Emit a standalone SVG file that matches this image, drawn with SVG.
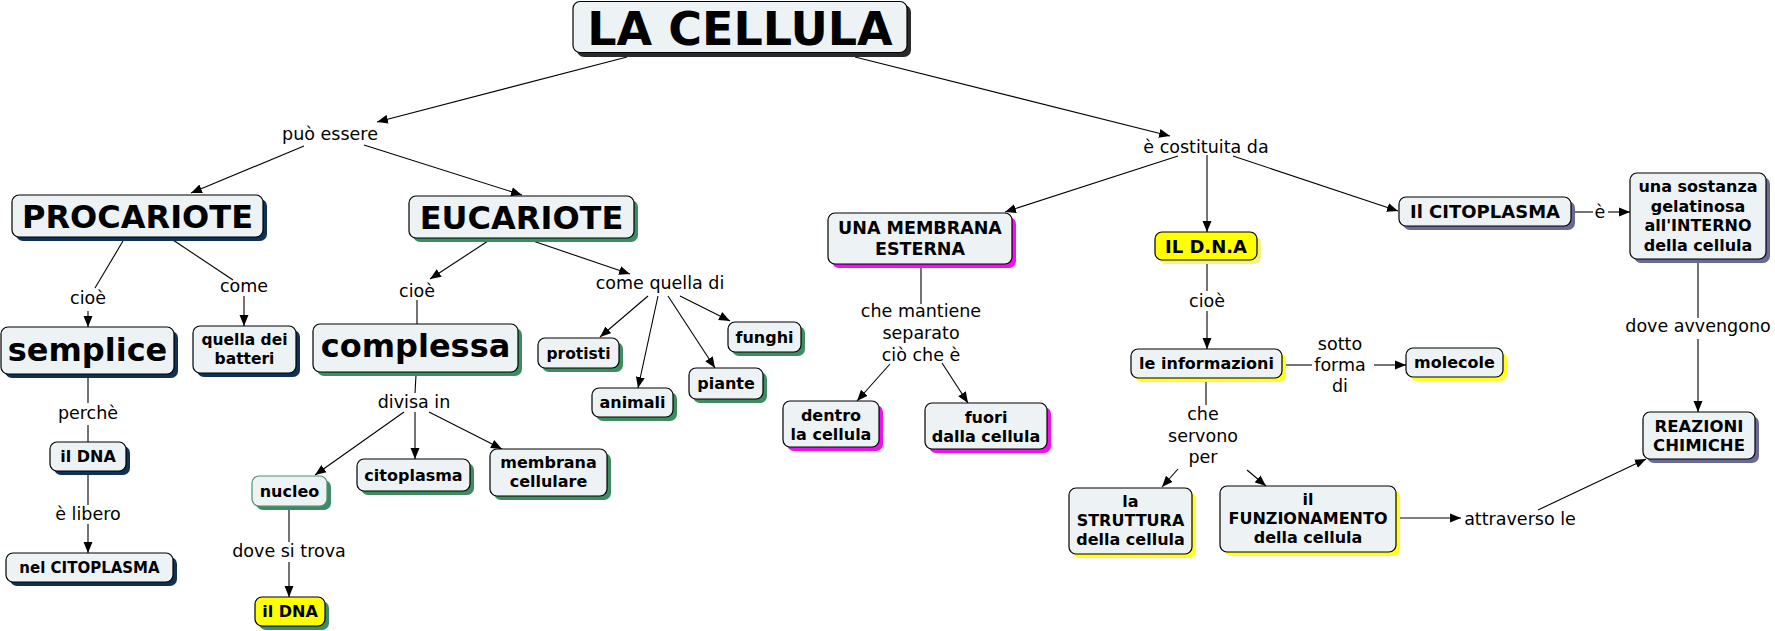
<svg xmlns="http://www.w3.org/2000/svg" width="1775" height="631" viewBox="0 0 1775 631">
<style>
.bx{fill:#edf3f5;stroke:#000;stroke-width:1.2}
.yl{fill:#ffff00;stroke:#000;stroke-width:1.2}
.s-dk{fill:#2a2a2a}.s-nv{fill:#0e3157}.s-gr{fill:#3e8c62}.s-mg{fill:#f010f0}.s-ye{fill:#ffff22}.s-sl{fill:#6a6a96}.s-ly{fill:#f4f47a}
text{font-family:"DejaVu Sans",Verdana,sans-serif;text-anchor:middle;fill:#000}
.n{font-weight:bold;font-size:16px}
.l{font-size:17.5px}
.c line{stroke:#000;stroke-width:1.1}
.c .a{marker-end:url(#ah)}
</style>
<defs>
<marker id="ah" markerWidth="12" markerHeight="10" refX="11" refY="5" orient="auto" markerUnits="userSpaceOnUse"><path d="M0,0.5 L11,5 L0,9.5 z" fill="#000"/></marker>
</defs>
<g class="c" id="connectors">
<line class="a" x1="627" y1="57" x2="377" y2="122"/>
<line class="a" x1="304" y1="146" x2="191" y2="193"/>
<line class="a" x1="364" y1="145" x2="522" y2="195"/>
<line x1="123" y1="241" x2="95" y2="288"/>
<line class="a" x1="88" y1="311" x2="88" y2="327"/>
<line x1="173" y1="240" x2="233" y2="280"/>
<line class="a" x1="244" y1="296" x2="244" y2="326"/>
<line x1="88" y1="378" x2="88" y2="403"/>
<line x1="88" y1="425" x2="88" y2="442"/>
<line x1="88" y1="474" x2="88" y2="505"/>
<line class="a" x1="88" y1="524" x2="88" y2="553"/>
<line class="a" x1="488" y1="241" x2="430" y2="279"/>
<line x1="417" y1="300" x2="417" y2="324"/>
<line class="a" x1="533" y1="241" x2="630" y2="274"/>
<line class="a" x1="648" y1="296" x2="600" y2="337"/>
<line class="a" x1="658" y1="296" x2="638" y2="388"/>
<line class="a" x1="668" y1="296" x2="715" y2="368"/>
<line class="a" x1="680" y1="296" x2="730" y2="321"/>
<line x1="416" y1="375" x2="415" y2="393"/>
<line class="a" x1="404" y1="412" x2="315" y2="475"/>
<line class="a" x1="415" y1="412" x2="415" y2="459"/>
<line class="a" x1="429" y1="412" x2="502" y2="449"/>
<line x1="289" y1="508" x2="289" y2="542"/>
<line class="a" x1="289" y1="562" x2="289" y2="597"/>
<line class="a" x1="855" y1="57" x2="1170" y2="136"/>
<line class="a" x1="1178" y1="156" x2="1005" y2="212"/>
<line class="a" x1="1207" y1="155" x2="1207" y2="232"/>
<line class="a" x1="1233" y1="156" x2="1398" y2="211"/>
<line x1="921" y1="265" x2="921" y2="304"/>
<line class="a" x1="890" y1="364" x2="857" y2="401"/>
<line class="a" x1="942" y1="363" x2="968" y2="403"/>
<line x1="1207" y1="261" x2="1207" y2="291"/>
<line class="a" x1="1207" y1="311" x2="1207" y2="349"/>
<line x1="1282" y1="365" x2="1312" y2="365"/>
<line class="a" x1="1374" y1="365" x2="1406" y2="365"/>
<line x1="1206" y1="379" x2="1206" y2="405"/>
<line class="a" x1="1178" y1="469" x2="1162" y2="487"/>
<line class="a" x1="1247" y1="470" x2="1266" y2="486"/>
<line class="a" x1="1397" y1="518" x2="1461" y2="518"/>
<line class="a" x1="1538" y1="510" x2="1646" y2="459"/>
<line x1="1572" y1="212" x2="1593" y2="212"/>
<line class="a" x1="1608" y1="212" x2="1630" y2="212"/>
<line x1="1698" y1="260" x2="1698" y2="318"/>
<line class="a" x1="1698" y1="339" x2="1698" y2="412"/>
</g>
<g id="labels">
<text class="l" x="330" y="140">può essere</text>
<text class="l" x="1206" y="153">è costituita da</text>
<text class="l" x="88" y="304">cioè</text>
<text class="l" x="244" y="292">come</text>
<text class="l" x="417" y="297">cioè</text>
<text class="l" x="660" y="289">come quella di</text>
<text class="l" x="88" y="419">perchè</text>
<text class="l" x="88" y="520">è libero</text>
<text class="l" x="414" y="408">divisa in</text>
<text class="l" x="289" y="557">dove si trova</text>
<text class="l" x="921" y="317">che mantiene</text>
<text class="l" x="921" y="339">separato</text>
<text class="l" x="921" y="361">ciò che è</text>
<text class="l" x="1207" y="307">cioè</text>
<text class="l" x="1340" y="350">sotto</text>
<text class="l" x="1340" y="371">forma</text>
<text class="l" x="1340" y="392">di</text>
<text class="l" x="1203" y="420">che</text>
<text class="l" x="1203" y="442">servono</text>
<text class="l" x="1203" y="463">per</text>
<text class="l" x="1520" y="525">attraverso le</text>
<text class="l" x="1600" y="218">è</text>
<text class="l" x="1698" y="332">dove avvengono</text>
</g>
<g id="n-cellula"><rect class="s-dk" x="577" y="5" width="334" height="52" rx="7"/><rect class="bx" x="573" y="1.5" width="334" height="51" rx="7"/><text class="n" style="font-size:46px" x="740" y="45">LA CELLULA</text></g>
<g id="n-procariote"><rect class="s-nv" x="16" y="199" width="251" height="42" rx="7"/><rect class="bx" x="12" y="195" width="251" height="42" rx="7"/><text class="n" style="font-size:32px" x="137.5" y="228">PROCARIOTE</text></g>
<g id="n-eucariote"><rect class="s-gr" x="413" y="200" width="225" height="42" rx="7"/><rect class="bx" x="409" y="196" width="225" height="42" rx="7"/><text class="n" style="font-size:32px" x="521.5" y="228.5">EUCARIOTE</text></g>
<g id="n-semplice"><rect class="s-nv" x="5" y="331" width="173" height="47" rx="7"/><rect class="bx" x="1" y="327" width="173" height="47" rx="7"/><text class="n" style="font-size:32px" x="87.5" y="361">semplice</text></g>
<g id="n-batteri"><rect class="s-nv" x="197" y="330" width="103" height="47" rx="7"/><rect class="bx" x="193" y="326" width="103" height="47" rx="7"/><text class="n" style="font-size:15.5px" x="244.5" y="345">quella dei</text><text class="n" style="font-size:15.5px" x="244.5" y="364">batteri</text></g>
<g id="n-complessa"><rect class="s-gr" x="317" y="328" width="205" height="48" rx="7"/><rect class="bx" x="313" y="324" width="205" height="48" rx="7"/><text class="n" style="font-size:32px" x="415.5" y="357">complessa</text></g>
<g id="n-protisti"><rect class="s-gr" x="542" y="342" width="81" height="30" rx="7"/><rect class="bx" x="538" y="338" width="81" height="30" rx="7"/><text class="n" style="font-size:15.5px" x="578.5" y="358.5">protisti</text></g>
<g id="n-animali"><rect class="s-gr" x="596" y="392" width="81" height="29" rx="7"/><rect class="bx" x="592" y="388" width="81" height="29" rx="7"/><text class="n" x="632.5" y="408">animali</text></g>
<g id="n-piante"><rect class="s-gr" x="693" y="372" width="74" height="31" rx="7"/><rect class="bx" x="689" y="368" width="74" height="31" rx="7"/><text class="n" x="726" y="389">piante</text></g>
<g id="n-funghi"><rect class="s-gr" x="732" y="326" width="73" height="30" rx="7"/><rect class="bx" x="728" y="322" width="73" height="30" rx="7"/><text class="n" x="764.5" y="343">funghi</text></g>
<g id="n-dna-left"><rect class="s-nv" x="54" y="446" width="76" height="29" rx="7"/><rect class="bx" x="50" y="442" width="76" height="29" rx="7"/><text class="n" x="88" y="462">il DNA</text></g>
<g id="n-nel-citoplasma"><rect class="s-nv" x="10" y="557" width="167" height="29" rx="7"/><rect class="bx" x="6" y="553" width="167" height="29" rx="7"/><text class="n" style="font-size:15px" x="89.5" y="573">nel CITOPLASMA</text></g>
<g id="n-nucleo"><rect class="s-gr" x="256" y="480" width="75" height="30" rx="7"/><rect class="bx" style="stroke:#4f8f6c" x="252" y="476" width="75" height="30" rx="7"/><text class="n" x="289.5" y="497">nucleo</text></g>
<g id="n-citoplasma"><rect class="s-gr" x="361" y="463" width="113" height="32" rx="7"/><rect class="bx" x="357" y="459" width="113" height="32" rx="7"/><text class="n" x="413.5" y="481">citoplasma</text></g>
<g id="n-membrana-cellulare"><rect class="s-gr" x="494" y="453" width="117" height="47" rx="7"/><rect class="bx" x="490" y="449" width="117" height="47" rx="7"/><text class="n" x="548.5" y="468">membrana</text><text class="n" x="548.5" y="487">cellulare</text></g>
<g id="n-dna-yellow"><rect class="s-gr" x="259" y="601" width="70" height="29" rx="7"/><rect class="yl" x="255" y="597" width="70" height="29" rx="7"/><text class="n" x="290" y="617">il DNA</text></g>
<g id="n-membrana-esterna"><rect class="s-mg" x="832" y="217" width="184" height="51" rx="7"/><rect class="bx" x="828" y="213" width="184" height="51" rx="7"/><text class="n" style="font-size:17.5px" x="920" y="234">UNA MEMBRANA</text><text class="n" style="font-size:17.5px" x="920" y="255">ESTERNA</text></g>
<g id="n-dentro"><rect class="s-mg" x="787" y="405" width="96" height="46" rx="7"/><rect class="bx" x="783" y="401" width="96" height="46" rx="7"/><text class="n" x="831" y="421">dentro</text><text class="n" x="831" y="440">la cellula</text></g>
<g id="n-fuori"><rect class="s-mg" x="929" y="407" width="122" height="46" rx="7"/><rect class="bx" x="925" y="403" width="122" height="46" rx="7"/><text class="n" x="986" y="423">fuori</text><text class="n" x="986" y="442">dalla cellula</text></g>
<g id="n-dna-caps"><rect class="s-ly" x="1159" y="236" width="102" height="28" rx="7"/><rect class="yl" x="1155" y="232" width="102" height="28" rx="7"/><text class="n" style="font-size:18px" x="1206" y="252.5">IL D.N.A</text></g>
<g id="n-informazioni"><rect class="s-ye" x="1135" y="353" width="151" height="29" rx="7"/><rect class="bx" x="1131" y="349" width="151" height="29" rx="7"/><text class="n" x="1206.5" y="369">le informazioni</text></g>
<g id="n-molecole"><rect class="s-ye" x="1410" y="352" width="97" height="29" rx="7"/><rect class="bx" x="1406" y="348" width="97" height="29" rx="7"/><text class="n" x="1454.5" y="368">molecole</text></g>
<g id="n-struttura"><rect class="s-ye" x="1073" y="492" width="123" height="66" rx="7"/><rect class="bx" x="1069" y="488" width="123" height="66" rx="7"/><text class="n" x="1130.5" y="507">la</text><text class="n" x="1130.5" y="526">STRUTTURA</text><text class="n" x="1130.5" y="545">della cellula</text></g>
<g id="n-funzionamento"><rect class="s-ye" x="1224" y="490" width="176" height="66" rx="7"/><rect class="bx" x="1220" y="486" width="176" height="66" rx="7"/><text class="n" x="1308" y="505">il</text><text class="n" x="1308" y="524">FUNZIONAMENTO</text><text class="n" x="1308" y="543">della cellula</text></g>
<g id="n-il-citoplasma"><rect class="s-sl" x="1403" y="201" width="172" height="29" rx="7"/><rect class="bx" x="1399" y="197" width="172" height="29" rx="7"/><text class="n" style="font-size:18px" x="1485" y="218">Il CITOPLASMA</text></g>
<g id="n-sostanza"><rect class="s-sl" x="1634" y="177" width="136" height="86" rx="7"/><rect class="bx" x="1630" y="173" width="136" height="86" rx="7"/><text class="n" x="1698" y="192">una sostanza</text><text class="n" x="1698" y="211.5">gelatinosa</text><text class="n" x="1698" y="231">all'INTERNO</text><text class="n" x="1698" y="250.5">della cellula</text></g>
<g id="n-reazioni"><rect class="s-sl" x="1647" y="416" width="112" height="47" rx="7"/><rect class="bx" x="1643" y="412" width="112" height="47" rx="7"/><text class="n" style="font-size:16.5px" x="1699" y="432">REAZIONI</text><text class="n" style="font-size:16.5px" x="1699" y="451">CHIMICHE</text></g>
</svg>
